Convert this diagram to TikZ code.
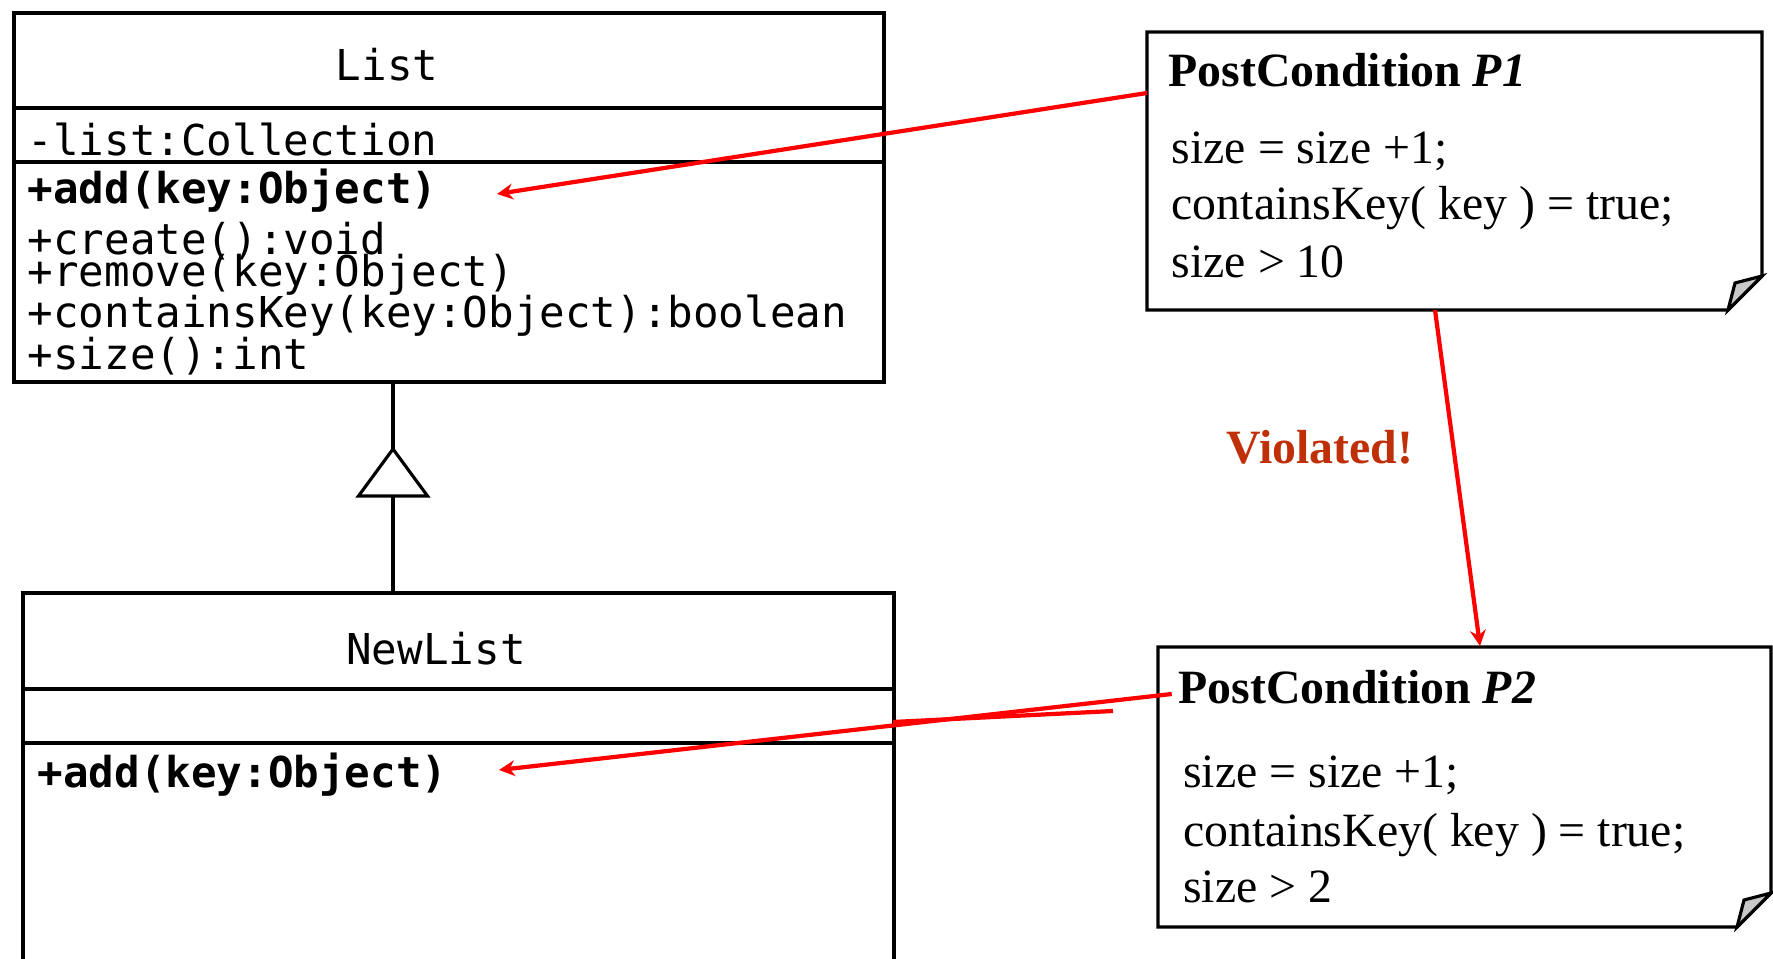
\documentclass[tikz,border=0pt]{standalone}
\usepackage{fontspec}
\setmainfont{Liberation Serif}
\newfontfamily\umlfont{DejaVu Sans Mono}
\usetikzlibrary{arrows.meta,calc}

\definecolor{violred}{RGB}{192,48,8}
\definecolor{foldgray}{RGB}{200,200,200}

\tikzset{
  classbox/.style={draw, line width=1.2pt, inner sep=0pt, anchor=north west},
  umltext/.style={anchor=base west, inner sep=0pt, font=\umlfont\fontsize{12.1}{14}\selectfont},
  umltitle/.style={umltext, anchor=base},
  notetext/.style={anchor=base west, inner sep=0pt, font=\fontsize{13.6}{16}\selectfont},
  boxline/.style={line width=1.2pt},
  noteline/.style={line width=0.9pt},
  redarrow/.style={red, line width=1.2pt, -{Stealth[length=4.5pt, width=4.5pt]}},
}

\begin{document}
\begin{tikzpicture}[x=1cm, y=-1cm]
\useasboundingbox (0,0) rectangle (17.73,9.59);
\def\NoteBox#1#2#3#4{
\draw[noteline, fill=white] (#1,#2) -- (#3,#2) -- ($(#3,#4)+(0,-0.34)$)
  -- ($(#3,#4)+(-0.34,0)$) -- (#1,#4) -- cycle;
\draw[noteline, fill=foldgray] ($(#3,#4)+(-0.34,0)$) -- ($(#3,#4)+(-0.27,-0.27)$)
  -- ($(#3,#4)+(0,-0.34)$) -- cycle;
}

% class List
\node[classbox, minimum width=8.705cm, minimum height=3.69cm] (list) at (0.115,0.11) {};
\draw[boxline] (0.115,1.08) -- (8.82,1.08);
\draw[boxline] (0.115,1.62) -- (8.82,1.62);
\node[umltitle] (listname) at (3.87,0.81) {List};
\node[umltext] (listattr) at (0.27,1.56) {-list:Collection};
\node[umltext] (addone) at (0.27,2.04) {\bfseries +add(key:Object)};
\node[umltext] (create) at (0.27,2.55) {+create():void};
\node[umltext] (remove) at (0.27,2.87) {+remove(key:Object)};
\node[umltext] (contains) at (0.27,3.28) {+containsKey(key:Object):boolean};
\node[umltext] (size) at (0.27,3.70) {+size():int};

% class NewList (runs off the bottom)
\node[classbox, minimum width=8.71cm, minimum height=4.2cm] (newlist) at (0.21,5.91) {};
\draw[boxline] (0.21,6.89) -- (8.92,6.89);
\draw[boxline] (0.21,7.43) -- (8.92,7.43);
\node[umltitle] (newlistname) at (4.36,6.64) {NewList};
\node[umltext] (addtwo) at (0.37,7.87) {\bfseries +add(key:Object)};

% generalization
\coordinate (inhtip) at (3.93,4.49);
\draw[line width=0.9pt] (inhtip |- list.south) -- (inhtip);
\draw[line width=0.9pt] (inhtip) -- ++(0.345,0.47) -- ++(-0.69,0) -- cycle;
\draw[line width=0.9pt] ($(inhtip)+(0,0.47)$) -- (inhtip |- newlist.north);

% postconditions
\NoteBox{11.47}{0.32}{17.62}{3.10}
\node[notetext] (ponetitle) at (11.68,0.87) {\bfseries PostCondition \textit{P1}};
\node[notetext] (poneline1) at (11.71,1.64) {size = size +1;};
\node[notetext] (poneline2) at (11.71,2.20) {containsKey( key ) = true;};
\node[notetext] (poneline3) at (11.71,2.78) {size > 10};

\NoteBox{11.58}{6.47}{17.71}{9.27}
\node[notetext] (ptwotitle) at (11.78,7.03) {\bfseries PostCondition \textit{P2}};
\node[notetext] (ptwoline1) at (11.825,7.87) {size = size +1;};
\node[notetext] (ptwoline2) at (11.825,8.46) {containsKey( key ) = true;};
\node[notetext] (ptwoline3) at (11.825,9.02) {size > 2};

\node[notetext, text=violred] (violated) at (12.26,4.63) {\bfseries Violated!};

% red links
\coordinate (poneout) at (11.47,0.93);
\coordinate (addtipA) at (4.97,1.94);
\coordinate (ponedown) at (14.35,3.10);
\coordinate (ptwoin) at (14.80,6.46);
\coordinate (ptwoout) at (11.717,6.94);
\coordinate (addtipB) at (4.99,7.70);
\coordinate (strayA) at (11.13,7.11);
\coordinate (strayB) at (8.93,7.22);

\draw[redarrow] (poneout) -- (addtipA);
\draw[redarrow] (ponedown) -- (ptwoin);
\draw[redarrow] (ptwoout) -- (addtipB);
\draw[red, line width=1.2pt] (strayA) -- (strayB);
\end{tikzpicture}
\end{document}
